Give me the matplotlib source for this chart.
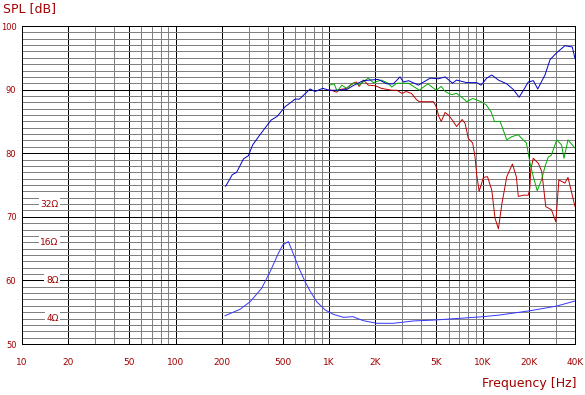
import numpy as np
import matplotlib
matplotlib.use('Agg')
import matplotlib.pyplot as plt
from matplotlib.ticker import NullFormatter

# on-axis SPL (blue)
freq_axis = [212, 234, 250, 277, 298, 318, 355, 419, 460, 517, 551, 600, 641, 752, 811, 910, 1000, 1100, 1300, 1430,
             1670, 1850, 2090, 2380, 2620, 2900, 3050, 3300, 3820, 4550, 5160, 5700, 6380, 6770, 7870, 9150, 9780,
             10640, 11480, 12680, 14380, 15890, 17300, 18460, 19850, 21430, 22870, 25500, 27500, 30400, 34400,
             38400, 40000]
spl_axis = [74.8, 76.6, 77.0, 79.1, 79.6, 81.3, 82.9, 85.2, 85.8, 87.3, 87.8, 88.5, 88.5, 90.1, 89.7, 90.2, 89.9,
            89.9, 90.0, 90.6, 91.4, 91.5, 91.6, 90.9, 90.9, 92.0, 91.2, 91.4, 90.7, 91.8, 91.7, 92.0, 91.0, 91.5,
            91.1, 91.1, 90.7, 91.8, 92.3, 91.5, 90.9, 90.0, 88.8, 89.9, 91.2, 91.4, 90.1, 92.3, 94.7, 95.8, 96.9,
            96.7, 94.9]

# off-axis SPL (green)
freq_off1 = [1000, 1080, 1130, 1210, 1300, 1370, 1480, 1570, 1800, 1940, 2190, 2430, 2560, 2770, 3300, 3870, 4400,
             4990, 5380, 5700, 6270, 6770, 7490, 7870, 8620, 9780, 10560, 11370, 11960, 13000, 14380, 15490, 17100,
             18000, 19300, 20400, 21400, 22700, 24200, 25500, 26800, 28100, 30400, 32700, 33900, 36000, 40000]
spl_off1 = [90.7, 90.9, 89.7, 90.7, 90.2, 90.7, 91.1, 90.7, 91.8, 91.1, 91.5, 91.0, 90.4, 91.0, 91.0, 89.9, 90.9,
            89.9, 90.5, 89.7, 89.2, 89.4, 88.6, 88.1, 88.6, 88.1, 87.6, 86.5, 85.0, 85.0, 82.1, 82.6, 82.9, 82.3,
            81.6, 78.4, 76.3, 74.1, 75.8, 77.9, 79.4, 79.7, 82.1, 81.3, 79.2, 82.1, 80.8]

# off-axis SPL (red)
freq_off2 = [1000, 1120, 1180, 1300, 1430, 1510, 1570, 1680, 1800, 2000, 2190, 2560, 2770, 2980, 3180, 3440, 3720,
             3870, 4790, 4990, 5200, 5380, 5700, 5990, 6360, 6770, 7360, 7690, 8080, 8620, 8930, 9160, 9500, 9870,
             10120, 10770, 11480, 12050, 12680, 13370, 14380, 15640, 16590, 17100, 18460, 19860, 20300, 20600,
             21400, 23100, 24300, 25800, 28100, 30000, 31400, 34400, 36000, 40000]
spl_off2 = [90.0, 89.6, 90.0, 90.2, 91.0, 91.2, 90.5, 91.5, 90.7, 90.6, 90.2, 89.9, 89.9, 89.4, 89.7, 89.4, 88.4,
            88.1, 88.1, 87.3, 85.7, 85.0, 86.4, 86.0, 85.2, 84.2, 85.3, 84.7, 82.3, 81.6, 79.4, 76.6, 74.0, 75.3,
            76.2, 76.3, 74.2, 69.8, 68.1, 72.1, 76.3, 78.3, 76.3, 73.2, 73.4, 73.4, 74.4, 77.4, 79.2, 78.4, 77.1,
            71.6, 71.1, 69.2, 75.8, 75.3, 76.2, 71.6]

# impedance in ohms
freq_imp = [210, 263, 306, 364, 413, 468, 499, 543, 572, 631, 698, 752, 831, 942, 1067, 1240, 1430, 1670, 2050,
            2630, 3540, 4780, 7130, 10100, 13000, 20400, 30400, 40000]
imp_ohm = [4.21, 4.73, 5.43, 6.93, 9.37, 13.1, 15.2, 16.2, 13.9, 10.25, 7.82, 6.6, 5.43, 4.68, 4.32, 4.09, 4.14,
           3.85, 3.67, 3.67, 3.83, 3.89, 4.02, 4.14, 4.27, 4.61, 5.02, 5.50]

x_ticks = [10, 20, 50, 100, 200, 500, 1000, 2000, 5000, 10000, 20000, 40000]
x_labels = ['10', '20', '50', '100', '200', '500', '1K', '2K', '5K', '10K', '20K', '40K']
x_minor = [30, 40, 60, 70, 80, 90, 300, 400, 600, 700, 800, 900, 3000, 4000, 6000, 7000, 8000, 9000, 30000]
y_ticks = [50, 60, 70, 80, 90, 100]
ohm_marks = [4, 8, 16, 32]

text_color = '#a00000'
grid_lw = 0.72


def ohm_to_db(z):
    # 4 ohm sits on 54 dB, 6 dB per doubling
    return 54 + 6 * np.log2(np.asarray(z) / 4.0)


fig = plt.figure(figsize=(5.85, 3.95), dpi=100)
ax = fig.add_axes([22 / 585, 51 / 395, 553 / 585, 318 / 395])

ax.set_xscale('log')
ax.set_xlim(10, 40000)
ax.set_ylim(50, 100)

ax.set_xticks(x_ticks, labels=x_labels)
ax.set_xticks(x_minor, minor=True)
ax.xaxis.set_minor_formatter(NullFormatter())
ax.set_yticks(y_ticks)
ax.set_yticks(np.arange(50, 101, 1), minor=True)

ax.set_axisbelow(True)
ax.grid(which='minor', color='#808080', lw=grid_lw, antialiased=False)
ax.grid(which='major', color='black', lw=grid_lw, antialiased=False)
ax.tick_params(which='both', length=0, labelsize=6.5, labelcolor=text_color)
ax.tick_params(axis='x', pad=10)
ax.tick_params(axis='y', pad=4, labelsize=6)
for sp in ax.spines.values():
    sp.set_linewidth(grid_lw)
    sp.set_color('black')
    sp.set_antialiased(False)

ax.plot(freq_imp, ohm_to_db(imp_ohm), color='#3535ff', lw=0.7)
ax.plot(freq_off2, spl_off2, color='#c00000', lw=0.7)
ax.plot(freq_off1, spl_off1, color='#00aa00', lw=0.7)
ax.plot(freq_axis, spl_axis, color='#0000c8', lw=0.7)

for z in ohm_marks:
    ax.text(17.3, ohm_to_db(z), f'{z}Ω', ha='right', va='center', fontsize=6.5, color=text_color,
            bbox=dict(fc='white', ec='none', pad=1.2), zorder=3)

fig.text(3 / 585, 1 - 2 / 395, 'SPL [dB]', ha='left', va='top', fontsize=9, color=text_color)
fig.text(576 / 585, 1 - 384 / 395, 'Frequency [Hz]', ha='right', va='center', fontsize=9, color=text_color)

fig.savefig('out.png', dpi=100)
